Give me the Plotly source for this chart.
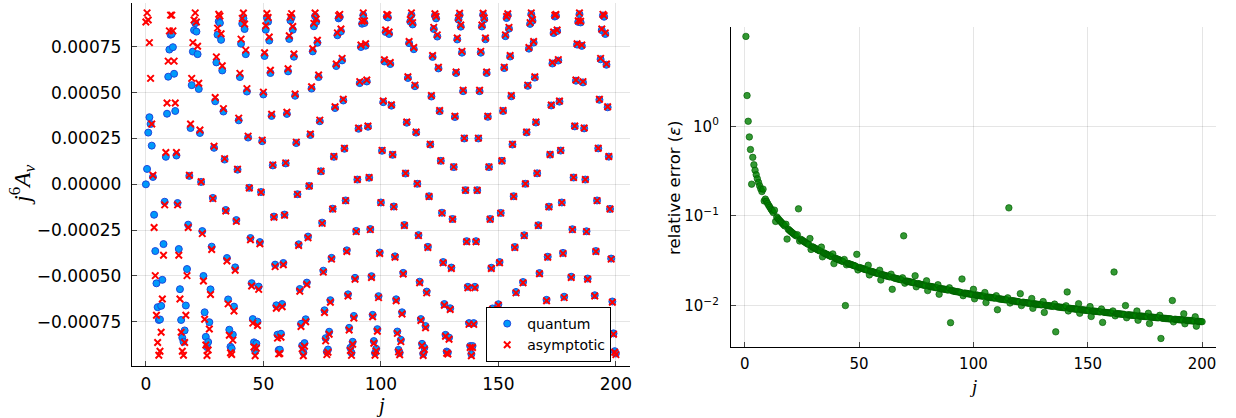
import plotly.graph_objects as go

# spin values j = 0, 0.5, ..., 200
j_values = [
    0, 0.5, 1, 1.5, 2, 2.5, 3, 3.5, 4, 4.5, 5, 5.5, 6, 6.5, 7, 7.5, 8, 8.5, 9, 9.5,
    10, 10.5, 11, 11.5, 12, 12.5, 13, 13.5, 14, 14.5, 15, 15.5, 16, 16.5, 17, 17.5, 18, 18.5, 19, 19.5,
    20, 20.5, 21, 21.5, 22, 22.5, 23, 23.5, 24, 24.5, 25, 25.5, 26, 26.5, 27, 27.5, 28, 28.5, 29, 29.5,
    30, 30.5, 31, 31.5, 32, 32.5, 33, 33.5, 34, 34.5, 35, 35.5, 36, 36.5, 37, 37.5, 38, 38.5, 39, 39.5,
    40, 40.5, 41, 41.5, 42, 42.5, 43, 43.5, 44, 44.5, 45, 45.5, 46, 46.5, 47, 47.5, 48, 48.5, 49, 49.5,
    50, 50.5, 51, 51.5, 52, 52.5, 53, 53.5, 54, 54.5, 55, 55.5, 56, 56.5, 57, 57.5, 58, 58.5, 59, 59.5,
    60, 60.5, 61, 61.5, 62, 62.5, 63, 63.5, 64, 64.5, 65, 65.5, 66, 66.5, 67, 67.5, 68, 68.5, 69, 69.5,
    70, 70.5, 71, 71.5, 72, 72.5, 73, 73.5, 74, 74.5, 75, 75.5, 76, 76.5, 77, 77.5, 78, 78.5, 79, 79.5,
    80, 80.5, 81, 81.5, 82, 82.5, 83, 83.5, 84, 84.5, 85, 85.5, 86, 86.5, 87, 87.5, 88, 88.5, 89, 89.5,
    90, 90.5, 91, 91.5, 92, 92.5, 93, 93.5, 94, 94.5, 95, 95.5, 96, 96.5, 97, 97.5, 98, 98.5, 99, 99.5,
    100, 100.5, 101, 101.5, 102, 102.5, 103, 103.5, 104, 104.5, 105, 105.5, 106, 106.5, 107, 107.5, 108, 108.5, 109, 109.5,
    110, 110.5, 111, 111.5, 112, 112.5, 113, 113.5, 114, 114.5, 115, 115.5, 116, 116.5, 117, 117.5, 118, 118.5, 119, 119.5,
    120, 120.5, 121, 121.5, 122, 122.5, 123, 123.5, 124, 124.5, 125, 125.5, 126, 126.5, 127, 127.5, 128, 128.5, 129, 129.5,
    130, 130.5, 131, 131.5, 132, 132.5, 133, 133.5, 134, 134.5, 135, 135.5, 136, 136.5, 137, 137.5, 138, 138.5, 139, 139.5,
    140, 140.5, 141, 141.5, 142, 142.5, 143, 143.5, 144, 144.5, 145, 145.5, 146, 146.5, 147, 147.5, 148, 148.5, 149, 149.5,
    150, 150.5, 151, 151.5, 152, 152.5, 153, 153.5, 154, 154.5, 155, 155.5, 156, 156.5, 157, 157.5, 158, 158.5, 159, 159.5,
    160, 160.5, 161, 161.5, 162, 162.5, 163, 163.5, 164, 164.5, 165, 165.5, 166, 166.5, 167, 167.5, 168, 168.5, 169, 169.5,
    170, 170.5, 171, 171.5, 172, 172.5, 173, 173.5, 174, 174.5, 175, 175.5, 176, 176.5, 177, 177.5, 178, 178.5, 179, 179.5,
    180, 180.5, 181, 181.5, 182, 182.5, 183, 183.5, 184, 184.5, 185, 185.5, 186, 186.5, 187, 187.5, 188, 188.5, 189, 189.5,
    190, 190.5, 191, 191.5, 192, 192.5, 193, 193.5, 194, 194.5, 195, 195.5, 196, 196.5, 197, 197.5, 198, 198.5, 199, 199.5,
    200,
]

# j^6 A_v, quantum, in units of 1e-6
quantum_e6 = [
    0, 84, 282, 366, 329, 211, 40, -166, -364, -540, -670, -740, -737, -663, -521, -326, -95, 150, 385, 587,
    735, 816, 820, 748, 603, 400, 157, -102, -353, -572, -740, -837, -859, -797, -661, -462, -220, 46, 307, 541,
    724, 841, 879, 833, 710, 520, 280, 13, -255, -500, -698, -832, -888, -860, -752, -573, -340, -74, 199, 453,
    665, 816, 889, 880, 788, 621, 397, 135, -140, -402, -628, -793, -886, -895, -820, -667, -453, -195, 80, 349,
    585, 767, 876, 905, 847, 710, 506, 255, -19, -293, -539, -735, -862, -909, -869, -749, -558, -315, -42, 235,
    490, 700, 843, 909, 887, 784, 607, 373, 103, -176, -438, -660, -820, -904, -902, -815, -653, -429, -165, 114,
    384, 616, 793, 894, 911, 843, 696, 483, 225, -54, -327, -571, -761, -879, -917, -866, -736, -536, -285, -9,
    269, 522, 725, 862, 917, 886, 772, 585, 344, 71, -209, -471, -687, -839, -913, -901, -804, -632, -401, -133,
    150, 416, 645, 813, 905, 912, 834, 676, 457, 194, -88, -360, -600, -783, -892, -919, -859, -718, -510, -254,
    26, 303, 552, 749, 876, 922, 880, 756, 561, 314, 36, -244, -501, -712, -855, -920, -897, -790, -610, -372,
    -99, 183, 448, 670, 831, 914, 910, 820, 656, 429, 161, -121, -393, -627, -803, -903, -919, -848, -698, -483,
    -222, 59, 336, 580, 770, 888, 924, 872, 737, 535, 282, 3, -277, -531, -735, -870, -924, -891, -773, -585,
    -341, -65, 217, 479, 695, 847, 920, 905, 806, 632, 399, 128, -155, -424, -653, -821, -912, -917, -836, -676,
    -454, -189, 94, 367, 607, 790, 899, 924, 860, 718, 508, 250, -32, -310, -559, -757, -882, -926, -882, -757,
    -559, -310, -32, 250, 508, 718, 861, 925, 900, 791, 607, 368, 94, -189, -455, -677, -838, -918, -913, -822,
    -654, -424, -156, 128, 400, 634, 808, 907, 922, 849, 697, 480, 217, -65, -342, -587, -775, -894, -926, -873,
    -737, -533, -278, 3, 283, 537, 740, 875, 928, 892, 773, 582, 337, 60, -223, -484, -701, -851, -923, -907,
    -807, -630, -395, -122, 162, 430, 659, 825, 915, 919, 836, 675, 451, 184, -99, -374, -613, -795, -902, -925,
    -861, -717, -504, -245, 37, 316, 565, 762, 886, 928, 883, 755, 556, 305, 26, -256, -514, -724, -866, -927,
    -900, -790, -605, -364, -88, 196, 461, 682, 841, 921, 914, 820, 652, 420, 151, -134, -405, -639, -813, -910,
    -923,
]

# j^6 A_v, asymptotic, in units of 1e-6
asymptotic_e6 = [
    885, 935, 896, 773, 578, 329, 49, -236, -498, -714, -863, -932, -911, -807, -626, -387, -112, 174, 444, 672,
    837, 923, 923, 837, 672, 444, 174, -112, -387, -626, -807, -911, -932, -863, -714, -498, -236, 49, 329, 578,
    773, 896, 935, 885, 753, 551, 296, 14, -269, -527, -736, -876, -934, -904, -789, -601, -356, -78, 208, 474,
    695, 852, 928, 918, 821, 647, 413, 140, -146, -418, -652, -823, -919, -928, -850, -691, -469, -202, 83, 361,
    605, 792, 905, 934, 874, 732, 522, 263, -20, -302, -555, -757, -887, -935, -894, -770, -573, -324, -43, 241,
    503, 718, 865, 932, 910, 804, 622, 382, 106, -180, -449, -676, -839, -925, -923, -834, -668, -439, -169, 117,
    393, 630, 810, 913, 931, 861, 711, 493, 230, -55, -334, -583, -776, -897, -935, -883, -750, -546, -291, -9,
    274, 532, 739, 878, 934, 902, 786, 596, 350, 72, -213, -479, -699, -854, -929, -916, -818, -643, -408, -135,
    152, 423, 656, 826, 920, 927, 847, 687, 464, 197, -89, -366, -609, -795, -906, -933, -872, -729, -518, -258,
    26, 307, 560, 760, 889, 935, 892, 767, 569, 318, 37, -247, -508, -722, -867, -932, -909, -801, -618, -377,
    -100, 185, 454, 679, 842, 926, 922, 831, 664, 434, 163, -123, -398, -635, -813, -914, -930, -858, -707, -489,
    -225, 60, 340, 587, 779, 899, 935, 882, 746, 541, 285, 3, -280, -537, -743, -880, -934, -901, -782, -592,
    -345, -66, 219, 484, 703, 856, 930, 915, 815, 639, 403, 129, -157, -428, -660, -829, -921, -926, -845, -683,
    -459, -191, 95, 371, 613, 798, 908, 933, 869, 725, 513, 252, -32, -313, -564, -764, -890, -935, -890, -764,
    -564, -313, -32, 252, 513, 725, 869, 933, 908, 798, 613, 371, 95, -191, -459, -683, -845, -926, -921, -829,
    -660, -428, -157, 129, 403, 639, 815, 915, 930, 856, 703, 484, 219, -66, -345, -592, -782, -901, -934, -880,
    -743, -537, -280, 3, 285, 541, 746, 882, 935, 899, 779, 587, 340, 60, -225, -488, -707, -858, -930, -914,
    -813, -635, -398, -123, 163, 433, 664, 831, 922, 926, 842, 680, 454, 185, -100, -377, -618, -801, -909, -932,
    -867, -722, -508, -247, 37, 318, 569, 767, 892, 935, 889, 760, 560, 307, 26, -258, -518, -729, -872, -933,
    -906, -795, -609, -366, -89, 197, 464, 687, 847, 927, 920, 826, 656, 423, 152, -135, -408, -643, -818, -916,
    -929,
]

# relative error for j = 0.5 ... 200
rel_error = [
    10.05, 2.2, 1.137, 0.76, 0.55, 0.226, 0.45, 0.372, 0.323, 0.288, 0.26, 0.237, 0.217, 0.201, 0.187, 0.199, 0.147, 0.154, 0.146,
    0.138, 0.131, 0.125, 0.119, 0.114, 0.109, 0.116, 0.0869, 0.0974, 0.0939, 0.0907, 0.0877, 0.0848, 0.0822, 0.0797, 0.0774, 0.0808, 0.0552, 0.0711, 0.0693,
    0.0675, 0.0658, 0.0642, 0.0627, 0.0612, 0.0599, 0.0618, 0.12, 0.0525, 0.0549, 0.0538, 0.0527, 0.0517, 0.0507, 0.0497, 0.0488, 0.0479, 0.056, 0.0423, 0.0454,
    0.0447, 0.0439, 0.0432, 0.0425, 0.0418, 0.0412, 0.0406, 0.0449, 0.035, 0.0388, 0.0382, 0.0377, 0.0371, 0.0366, 0.0361, 0.0356, 0.0351, 0.0377, 0.0294, 0.0338,
    0.0334, 0.033, 0.0326, 0.0322, 0.0318, 0.0314, 0.031, 0.0327, 0.01, 0.0285, 0.0296, 0.0293, 0.029, 0.0287, 0.0284, 0.0281, 0.0278, 0.0275, 0.0373, 0.025,
    0.0266, 0.0264, 0.0261, 0.0259, 0.0256, 0.0254, 0.0251, 0.0249, 0.0282, 0.022, 0.0242, 0.024, 0.0238, 0.0236, 0.0233, 0.0231, 0.0229, 0.0227, 0.0248, 0.0193,
    0.0222, 0.022, 0.0218, 0.0216, 0.0214, 0.0213, 0.0211, 0.0209, 0.0224, 0.0152, 0.0205, 0.0203, 0.0201, 0.02, 0.0198, 0.0197, 0.0195, 0.0194, 0.0204, 0.06,
    0.0178, 0.0188, 0.0187, 0.0186, 0.0185, 0.0183, 0.0182, 0.0181, 0.018, 0.0215, 0.0162, 0.0176, 0.0175, 0.0174, 0.0172, 0.0171, 0.017, 0.0169, 0.0168, 0.0189,
    0.0147, 0.0165, 0.0164, 0.0163, 0.0162, 0.0161, 0.016, 0.0159, 0.0158, 0.0171, 0.0134, 0.0155, 0.0154, 0.0153, 0.0153, 0.0152, 0.0151, 0.015, 0.0149, 0.0158,
    0.00645, 0.0147, 0.0146, 0.0145, 0.0144, 0.0143, 0.0143, 0.0142, 0.0141, 0.014, 0.0198, 0.0129, 0.0138, 0.0137, 0.0137, 0.0136, 0.0135, 0.0135, 0.0134, 0.0133,
    0.0152, 0.0119, 0.0131, 0.0131, 0.013, 0.0129, 0.0129, 0.0128, 0.0128, 0.0127, 0.014, 0.0108, 0.0125, 0.0124, 0.0124, 0.0123, 0.0123, 0.0122, 0.0122, 0.0121,
    0.0129, 0.009, 0.0119, 0.0119, 0.0118, 0.0118, 0.0117, 0.0117, 0.0116, 0.0116, 0.0122, 0.123, 0.0107, 0.0114, 0.0113, 0.0113, 0.0112, 0.0112, 0.0111, 0.0111,
    0.011, 0.0136, 0.01, 0.0109, 0.0109, 0.0108, 0.0108, 0.0107, 0.0107, 0.0106, 0.0106, 0.012, 0.00932, 0.0105, 0.0104, 0.0104, 0.0103, 0.0103, 0.0103, 0.0102,
    0.0102, 0.0111, 0.0084, 0.0101, 0.01, 0.01, 0.00996, 0.00992, 0.00989, 0.00985, 0.00981, 0.0104, 0.0051, 0.0097, 0.00967, 0.00963, 0.0096, 0.00956, 0.00953, 0.00949,
    0.00946, 0.00995, 0.0142, 0.00872, 0.00933, 0.00929, 0.00926, 0.00923, 0.0092, 0.00916, 0.00913, 0.0091, 0.0105, 0.00821, 0.00901, 0.00898, 0.00895, 0.00892, 0.00889, 0.00886,
    0.00883, 0.0088, 0.00975, 0.00756, 0.00871, 0.00868, 0.00865, 0.00862, 0.0086, 0.00857, 0.00854, 0.00851, 0.00917, 0.0065, 0.00843, 0.00841, 0.00838, 0.00835, 0.00833, 0.0083,
    0.00827, 0.00825, 0.00871, 0.0237, 0.00769, 0.00815, 0.00812, 0.0081, 0.00807, 0.00805, 0.00802, 0.008, 0.00797, 0.01, 0.00732, 0.0079, 0.00788, 0.00786, 0.00783, 0.00781,
    0.00779, 0.00776, 0.00774, 0.0087, 0.00687, 0.00767, 0.00765, 0.00763, 0.00761, 0.00758, 0.00756, 0.00754, 0.00752, 0.00821, 0.0063, 0.00746, 0.00744, 0.00741, 0.00739, 0.00737,
    0.00735, 0.00733, 0.00731, 0.00779, 0.0043, 0.00725, 0.00723, 0.00721, 0.00719, 0.00717, 0.00715, 0.00713, 0.00711, 0.0071, 0.0114, 0.00659, 0.00704, 0.00702, 0.007, 0.00698,
    0.00696, 0.00695, 0.00693, 0.00691, 0.0081, 0.00627, 0.00686, 0.00684, 0.00682, 0.0068, 0.00679, 0.00677, 0.00675, 0.00673, 0.00751, 0.0059, 0.00668, 0.00667, 0.00665, 0.00663,
    0.00662,
]

left_yticks = [-0.00075, -0.0005, -0.00025, 0, 0.00025, 0.0005, 0.00075]
left_yticklabels = ['\u22120.00075', '\u22120.00050', '\u22120.00025', '0.00000', '0.00025', '0.00050', '0.00075']
xticks = [0, 50, 100, 150, 200]
right_yticks = [1, 0.1, 0.01]
right_yticklabels = ['10<sup>0</sup>', '10<sup>\u22121</sup>', '10<sup>\u22122</sup>']

quantum = [v * 1e-6 for v in quantum_e6]
asymptotic = [v * 1e-6 for v in asymptotic_e6]
err_j = j_values[1:]

fig = go.Figure()
fig.add_trace(go.Scatter(x=j_values, y=quantum, mode='markers', name='quantum',
                         marker=dict(symbol='circle', size=7, color='rgb(0,154,250)',
                                     line=dict(width=1, color='rgb(30,70,220)')), xaxis='x', yaxis='y'))
fig.add_trace(go.Scatter(x=j_values, y=asymptotic, mode='markers', name='asymptotic',
                         marker=dict(symbol='x-thin', size=6.5, color='red', line=dict(width=2, color='red')),
                         xaxis='x', yaxis='y'))
fig.add_trace(go.Scatter(x=err_j, y=rel_error, mode='markers', showlegend=False,
                         marker=dict(symbol='circle', size=6.5, color='rgba(0,128,0,0.8)',
                                     line=dict(width=0.8, color='rgba(0,90,0,0.8)')), xaxis='x2', yaxis='y2'))

grid = 'rgba(0,0,0,0.1)'
common = dict(showgrid=True, gridcolor=grid, gridwidth=1, showline=True, linecolor='black', linewidth=1,
              ticks='inside', ticklen=5, tickcolor='rgba(0,0,0,0.7)', zeroline=False, mirror=False)
f17 = dict(family='DejaVu Sans', size=17, color='black')
f15 = dict(family='DejaVu Sans', size=15, color='black')
fig.update_layout(
    width=1236, height=418, margin=dict(l=0, r=0, t=0, b=0),
    paper_bgcolor='white', plot_bgcolor='white',
    xaxis=dict(domain=[132/1236, 631/1236], range=[-6, 206], tickvals=xticks,
               anchor='y', ticklabelstandoff=3, tickfont=f17, **common),
    yaxis=dict(domain=[1-366/418, 1-3/418], range=[-0.000991, 0.000989], tickvals=left_yticks,
               ticktext=left_yticklabels, anchor='x', ticklabelstandoff=6, tickfont=f17, **common),
    xaxis2=dict(domain=[732/1236, 1218/1236], range=[-6.1, 206.1], tickvals=xticks,
                anchor='y2', ticklabelstandoff=3, tickfont=f15, **common),
    yaxis2=dict(domain=[1-347.3/418, 1-27/418], type='log', range=[-2.465, 1.107], tickvals=right_yticks,
                ticktext=right_yticklabels, anchor='x2', ticklabelstandoff=8, tickfont=f15, **common),
    legend=dict(x=487/1236, y=1-307/418, xanchor='left', yanchor='top', bgcolor='white',
                bordercolor='black', borderwidth=1, tracegroupgap=0,
                font=dict(family='DejaVu Sans', size=14, color='black')),
    annotations=[
        dict(text='<i>j</i>', x=381/1236, y=1-405/418, xref='paper', yref='paper', showarrow=False,
             xanchor='center', yanchor='middle', font=dict(family='Liberation Serif', size=21, color='black')),
        dict(text='<i>j</i>', x=975/1236, y=1-386/418, xref='paper', yref='paper', showarrow=False,
             xanchor='center', yanchor='middle', font=dict(family='Liberation Serif', size=19, color='black')),
        dict(text='<i>j</i><sup>6</sup><i>A</i><sub><i>v</i></sub>', x=22/1236, y=1-184/418, xref='paper',
             yref='paper', showarrow=False, textangle=-90, xanchor='center', yanchor='middle',
             font=dict(family='Liberation Serif', size=24, color='black')),
        dict(text='relative error (<i>\u03b5</i>)', x=675/1236, y=1-188/418, xref='paper', yref='paper',
             showarrow=False, textangle=-90, xanchor='center', yanchor='middle',
             font=dict(family='DejaVu Sans', size=16.5, color='black')),
    ],
)
fig.write_html('out.html')
